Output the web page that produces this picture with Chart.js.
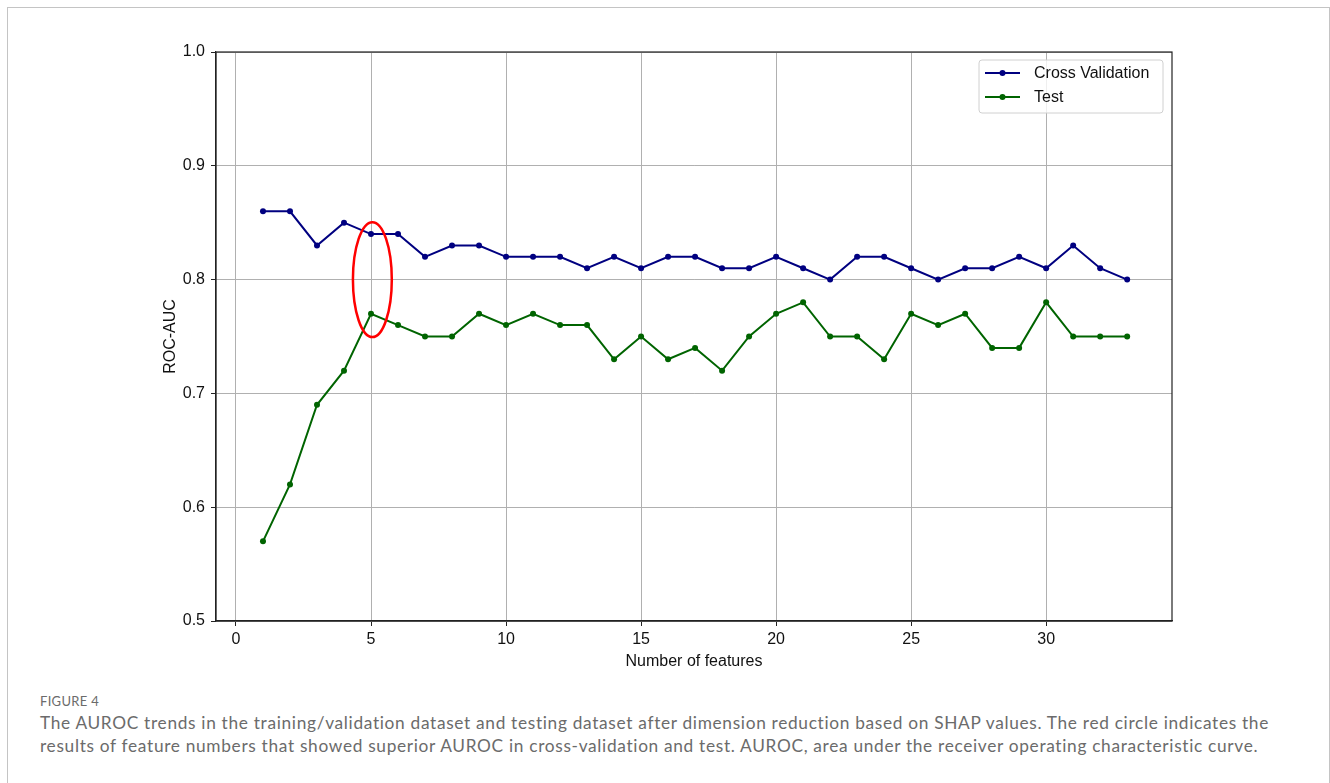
<!DOCTYPE html>
<html>
<head>
<meta charset="utf-8">
<script src="https://cdn.jsdelivr.net/npm/chart.js@4.4.0/dist/chart.umd.min.js"></script>
<style>
  body { margin: 0; background: #fff; width: 1330px; height: 783px; overflow: hidden; position: relative; }
  #frame { position: absolute; left: 7px; top: 7px; width: 1321px; height: 800px; border: 1.5px solid #c4c4c4; border-bottom: none; }
  #wrap { position: absolute; left: 0; top: 0; width: 1330px; height: 690px; }
  #cap { position: absolute; left: 40px; top: 691px; font-family: Lato, "Open Sans", sans-serif; color: #6b6b6b; }
  #cap .lbl { font-size: 13px; letter-spacing: 0.3px; line-height: 20px; }
  #cap .txt { font-size: 17.3px; line-height: 23px; letter-spacing: 0.68px; }
</style>
</head>
<body>
<div id="frame"></div>
<div id="wrap"><canvas id="c"></canvas></div>
<div id="cap">
  <div class="lbl">FIGURE 4</div>
  <div class="txt">The AUROC trends in the training/validation dataset and testing dataset after dimension reduction based on SHAP values. The red circle indicates the<br>results of feature numbers that showed superior AUROC in cross-validation and test. AUROC, area under the receiver operating characteristic curve.</div>
</div>
<script>
// datos
const features = [1,2,3,4,5,6,7,8,9,10,11,12,13,14,15,16,17,18,19,20,21,22,23,24,25,26,27,28,29,30,31,32,33];
const crossValidation = [0.86,0.86,0.83,0.85,0.84,0.84,0.82,0.83,0.83,0.82,0.82,0.82,0.81,0.82,0.81,0.82,0.82,0.81,0.81,0.82,0.81,0.80,0.82,0.82,0.81,0.80,0.81,0.81,0.82,0.81,0.83,0.81,0.80];
const test = [0.57,0.62,0.69,0.72,0.77,0.76,0.75,0.75,0.77,0.76,0.77,0.76,0.76,0.73,0.75,0.73,0.74,0.72,0.75,0.77,0.78,0.75,0.75,0.73,0.77,0.76,0.77,0.74,0.74,0.78,0.75,0.75,0.75];
const xTicks = [0,5,10,15,20,25,30];
const yTicks = [0.5,0.6,0.7,0.8,0.9,1.0];
const seriesNames = ['Cross Validation','Test'];
const seriesColors = ['#000080','#006400'];
// elipse roja: centro y semiejes en unidades de datos
const highlight = { x: 5.05, y: 0.80, rx: 0.72, ry: 0.0505 };

const FONT = '"Liberation Sans", Arial, sans-serif';

function toPoints(vals) {
  return features.map((f, i) => ({ x: f, y: vals[i] }));
}

const framePlugin = {
  id: 'frame',
  afterDraw(chart) {
    const ctx = chart.ctx;
    const a = chart.chartArea;
    const xs = chart.scales.x, ys = chart.scales.y;
    ctx.save();
    // marco completo
    ctx.strokeStyle = '#222';
    ctx.lineWidth = 1.2;
    ctx.strokeRect(a.left, a.top, a.right - a.left, a.bottom - a.top);

    // elipse
    const cx = xs.getPixelForValue(highlight.x);
    const cy = ys.getPixelForValue(highlight.y);
    const rx = Math.abs(xs.getPixelForValue(highlight.x + highlight.rx) - cx);
    const ry = Math.abs(ys.getPixelForValue(highlight.y + highlight.ry) - cy);
    ctx.beginPath();
    ctx.ellipse(cx, cy, rx, ry, 0, 0, Math.PI * 2);
    ctx.strokeStyle = '#ff0000';
    ctx.lineWidth = 2.5;
    ctx.stroke();

    // leyenda
    const lx = 979, ly = 60, lw = 184, lh = 53;
    ctx.beginPath();
    ctx.roundRect(lx, ly, lw, lh, 3);
    ctx.fillStyle = 'rgba(255,255,255,0.8)';
    ctx.fill();
    ctx.strokeStyle = '#d0d0d0';
    ctx.lineWidth = 1;
    ctx.stroke();
    ctx.font = '16px ' + FONT;
    ctx.textBaseline = 'middle';
    seriesNames.forEach((name, i) => {
      const y = 73 + i * 24;
      ctx.strokeStyle = seriesColors[i];
      ctx.lineWidth = 2;
      ctx.beginPath();
      ctx.moveTo(985, y);
      ctx.lineTo(1020, y);
      ctx.stroke();
      ctx.fillStyle = seriesColors[i];
      ctx.beginPath();
      ctx.arc(1002.5, y, 3, 0, Math.PI * 2);
      ctx.fill();
      ctx.fillStyle = '#111';
      ctx.textAlign = 'left';
      ctx.fillText(name, 1034, y + 1);
    });

    // titulos de ejes
    ctx.fillStyle = '#111';
    ctx.textAlign = 'center';
    ctx.fillText('Number of features', (a.left + a.right) / 2, 662);
    ctx.translate(171, (a.top + a.bottom) / 2);
    ctx.rotate(-Math.PI / 2);
    ctx.fillText('ROC-AUC', 0, 0);
    ctx.restore();
  }
};

new Chart(document.getElementById('c'), {
  type: 'line',
  data: {
    datasets: [
      { label: seriesNames[0], data: toPoints(crossValidation), borderColor: seriesColors[0], backgroundColor: seriesColors[0], borderWidth: 2, pointRadius: 3, pointBorderWidth: 0, tension: 0 },
      { label: seriesNames[1], data: toPoints(test), borderColor: seriesColors[1], backgroundColor: seriesColors[1], borderWidth: 2, pointRadius: 3, pointBorderWidth: 0, tension: 0 }
    ]
  },
  options: {
    responsive: true,
    maintainAspectRatio: false,
    animation: false,
    layout: { padding: { left: 146, right: 158, top: 52, bottom: 19 } },
    plugins: { legend: { display: false }, tooltip: { enabled: false } },
    scales: {
      x: {
        type: 'linear',
        min: -0.74,
        max: 34.66,
        afterBuildTicks: (s) => { s.ticks = xTicks.map(v => ({ value: v })); },
        afterFit: (s) => { s.height = 50; },
        grid: { color: '#b0b0b0', lineWidth: 1, tickColor: '#222', tickLength: 5 },
        border: { color: '#222', width: 1.2 },
        ticks: { color: '#111', font: { family: FONT, size: 16 }, padding: 4, maxRotation: 0 }
      },
      y: {
        type: 'linear',
        min: 0.5,
        max: 1.0,
        afterBuildTicks: (s) => { s.ticks = yTicks.map(v => ({ value: v })); },
        afterFit: (s) => { s.width = 70; },
        grid: { color: '#b0b0b0', lineWidth: 1, tickColor: '#222', tickLength: 5 },
        border: { color: '#222', width: 1.2 },
        ticks: { color: '#111', font: { family: FONT, size: 16 }, padding: 6, callback: (v) => v.toFixed(1) }
      }
    }
  },
  plugins: [framePlugin]
});
</script>
</body>
</html>
